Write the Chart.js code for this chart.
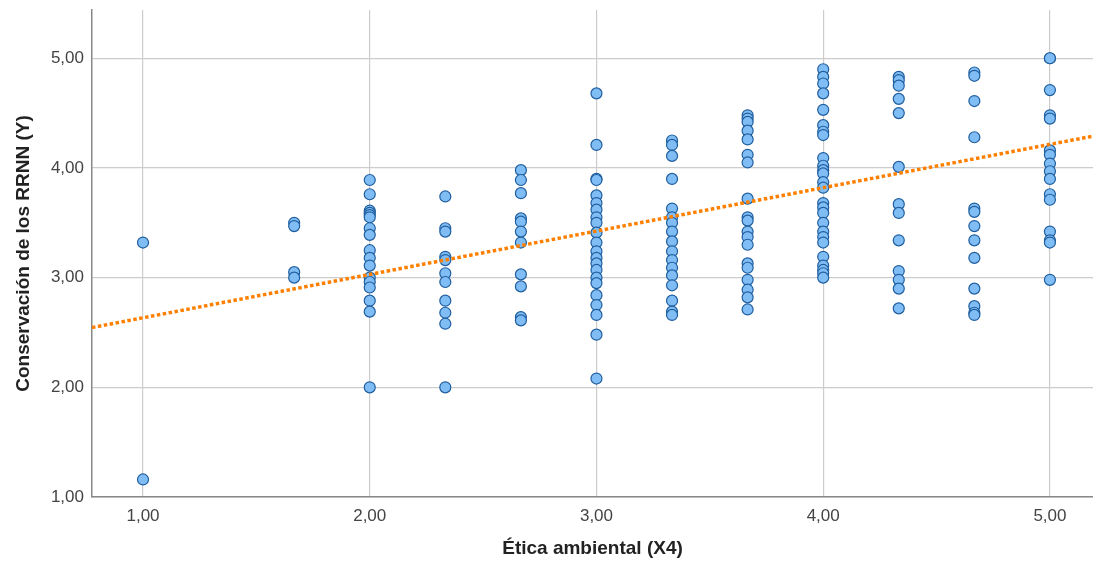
<!DOCTYPE html>
<html>
<head>
<meta charset="utf-8">
<script src="https://cdn.jsdelivr.net/npm/chart.js@4"></script>
<style>
  html, body { margin: 0; padding: 0; background: #fff; }
  canvas { display: block; }
</style>
</head>
<body>
<canvas id="chart" width="1093" height="562"></canvas>
<script>
// columns of Ética ambiental (X4) and the Y values
const xLevels = [1, 1.6667, 2, 2.3333, 2.6667, 3, 3.3333, 3.6667, 4, 4.3333, 4.6667, 5];
const yByLevel = [
  [3.32, 1.16],
  [3.50, 3.47, 3.05, 3.00],
  [3.89, 3.76, 3.61, 3.59, 3.57, 3.55, 3.45, 3.39, 3.25, 3.18, 3.11, 3.00, 2.96, 2.91, 2.79, 2.69, 2.00],
  [3.74, 3.45, 3.42, 3.19, 3.16, 3.04, 2.96, 2.79, 2.68, 2.58, 2.00],
  [3.98, 3.89, 3.77, 3.54, 3.51, 3.42, 3.32, 3.03, 2.92, 2.64, 2.61],
  [4.68, 4.21, 3.90, 3.89, 3.75, 3.68, 3.62, 3.55, 3.50, 3.41, 3.32, 3.24, 3.18, 3.13, 3.07, 3.00, 2.95, 2.84, 2.75, 2.66, 2.48, 2.08],
  [4.25, 4.21, 4.11, 3.90, 3.63, 3.55, 3.50, 3.42, 3.33, 3.24, 3.16, 3.09, 3.02, 2.93, 2.79, 2.69, 2.66],
  [4.48, 4.45, 4.42, 4.34, 4.26, 4.12, 4.05, 3.72, 3.55, 3.52, 3.42, 3.37, 3.30, 3.13, 3.09, 2.98, 2.89, 2.82, 2.71],
  [4.90, 4.83, 4.77, 4.68, 4.53, 4.39, 4.33, 4.30, 4.09, 4.02, 3.98, 3.95, 3.87, 3.82, 3.68, 3.64, 3.59, 3.50, 3.42, 3.37, 3.32, 3.19, 3.11, 3.07, 3.04, 3.00],
  [4.83, 4.80, 4.75, 4.63, 4.50, 4.01, 3.67, 3.59, 3.34, 3.06, 2.98, 2.90, 2.72],
  [4.87, 4.84, 4.61, 4.28, 3.63, 3.60, 3.47, 3.34, 3.18, 2.90, 2.74, 2.68, 2.66],
  [5.00, 5.00, 4.71, 4.48, 4.45, 4.16, 4.12, 4.04, 3.97, 3.90, 3.76, 3.71, 3.42, 3.34, 3.32, 2.98]
];
// fit line end points (ends at the plot edges)
const trendX = [0.775, 5.19];
const trendY = [2.545, 4.29];
const tickValues = [1, 2, 3, 4, 5];

const points = [];
xLevels.forEach((x, i) => {
  yByLevel[i].forEach(y => points.push({ x: x, y: y }));
});
const trend = trendX.map((x, i) => ({ x: x, y: trendY[i] }));

const fmt = v => Number(v).toFixed(2).replace('.', ',');

const ctx = document.getElementById('chart');
const chart = new Chart(ctx, {
  type: 'scatter',
  data: {
    datasets: [
      {
        type: 'line',
        data: trend,
        borderColor: '#ff8000',
        borderWidth: 3.5,
        borderDash: [3.5, 2.5],
        pointRadius: 0,
        fill: false,
        order: 0
      },
      {
        data: points,
        backgroundColor: '#80bdf5',
        borderColor: '#1f5e9e',
        borderWidth: 1.2,
        pointRadius: 5.5,
        order: 1
      }
    ]
  },
  options: {
    animation: false,
    responsive: false,
    layout: { autoPadding: false, padding: { top: 10, right: 0, left: 0, bottom: 0 } },
    plugins: {
      legend: { display: false },
      tooltip: { enabled: false }
    },
    scales: {
      x: {
        type: 'linear',
        min: 0.775,
        max: 5.19,
        afterBuildTicks: s => { s.ticks = tickValues.map(v => ({ value: v })); },
        afterFit: s => { s.height = 65; s.paddingLeft = 0; s.paddingRight = 0; },
        grid: { color: '#cccccc', lineWidth: 1.2, drawTicks: false },
        border: { color: '#888888', width: 1.5 },
        ticks: {
          padding: 9,
          color: '#444',
          font: { family: 'Liberation Sans', size: 17 },
          callback: fmt
        },
        title: {
          display: true,
          text: 'Ética ambiental (X4)',
          color: '#222',
          padding: { top: 0, bottom: 2 },
          font: { family: 'Liberation Sans', size: 19, weight: 'bold' }
        }
      },
      y: {
        type: 'linear',
        min: 1,
        max: 5.44,
        afterBuildTicks: s => { s.ticks = tickValues.map(v => ({ value: v })); },
        afterFit: s => { s.width = 92; s.paddingTop = 0; s.paddingBottom = 0; },
        grid: { color: '#cccccc', lineWidth: 1.2, drawTicks: false },
        border: { color: '#888888', width: 1.5 },
        ticks: {
          padding: 8,
          color: '#444',
          font: { family: 'Liberation Sans', size: 17 },
          callback: fmt
        },
        title: {
          display: true,
          text: 'Conservación de los RRNN (Y)',
          color: '#222',
          padding: { top: 12, bottom: 0 },
          font: { family: 'Liberation Sans', size: 19, weight: 'bold' }
        }
      }
    }
  }
});
</script>
</body>
</html>
